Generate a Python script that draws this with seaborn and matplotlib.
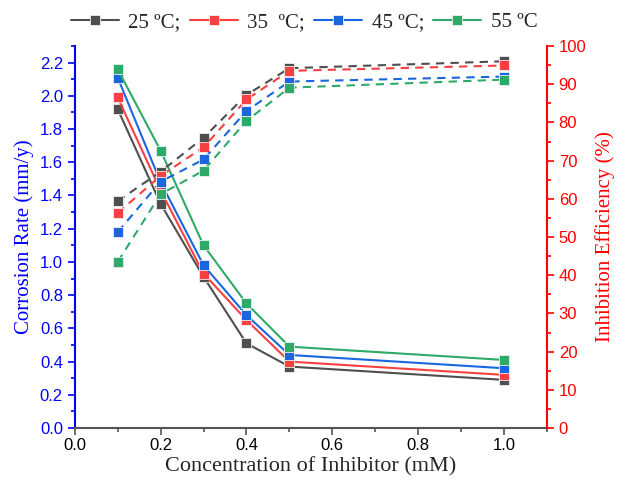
import matplotlib
matplotlib.use("Agg")
import matplotlib.pyplot as plt
import seaborn as sns
import pandas as pd
from matplotlib.lines import Line2D
from matplotlib.ticker import MultipleLocator

# concentration of inhibitor (mM)
conc = [0.1, 0.2, 0.3, 0.4, 0.5, 1.0]
temps = ["25 ºC;", "35  ºC;", "45 ºC;", "55 ºC"]

# corrosion rate (mm/y), left axis
cr_25 = [1.92, 1.35, 0.91, 0.51, 0.37, 0.29]
cr_35 = [1.99, 1.43, 0.93, 0.65, 0.40, 0.32]
cr_45 = [2.11, 1.48, 0.98, 0.68, 0.44, 0.36]
cr_55 = [2.16, 1.67, 1.10, 0.75, 0.49, 0.41]

# inhibition efficiency (%), right axis
ie_25 = [59.4, 67.1, 76.0, 87.2, 94.2, 96.0]
ie_35 = [56.3, 66.0, 73.5, 86.0, 93.5, 94.9]
ie_45 = [51.3, 64.5, 70.3, 83.0, 90.7, 92.0]
ie_55 = [43.5, 61.2, 67.4, 80.4, 89.1, 91.2]

colors = ["#4f4f4f", "#f94040", "#1a66e0", "#2eaa68"]

sns.set_style("ticks")
plt.rcParams["font.family"] = ["Liberation Sans", "DejaVu Sans"]
serif = ["Liberation Serif", "DejaVu Serif"]

fig = plt.figure(figsize=(6.18, 4.92), dpi=100)
ax = fig.add_axes([0.121, 0.130, 0.764, 0.7765])
ax2 = ax.twinx()

cr_all = [cr_25, cr_35, cr_45, cr_55]
ie_all = [ie_25, ie_35, ie_45, ie_55]

mk = dict(marker="s", markersize=7.5, markeredgecolor="#eeeeee",
          markeredgewidth=0.6, linewidth=1.5)

# solid lines: corrosion rate
for cr, col in zip(cr_all, colors):
    df = pd.DataFrame({"conc": conc, "val": cr})
    sns.lineplot(data=df, x="conc", y="val", ax=ax, color=col,
                 markerfacecolor=col, legend=False, **mk)

# dashed lines: inhibition efficiency
for ie, col in zip(ie_all, colors):
    df = pd.DataFrame({"conc": conc, "val": ie})
    sns.lineplot(data=df, x="conc", y="val", ax=ax2, color=col,
                 markerfacecolor=col, legend=False,
                 linestyle=(0, (4, 3)), **mk)

ax.set_xlim(0, 1.1)
ax.set_ylim(0, 2.3)
ax2.set_ylim(0, 100)

ax.xaxis.set_minor_locator(MultipleLocator(0.1))
ax.yaxis.set_major_locator(MultipleLocator(0.2))
ax.yaxis.set_minor_locator(MultipleLocator(0.1))
ax2.yaxis.set_major_locator(MultipleLocator(10))
ax2.yaxis.set_minor_locator(MultipleLocator(5))

ax.set_xticks([0.0, 0.2, 0.4, 0.6, 0.8, 1.0])
ax.set_xticklabels(["0.0", "0.2", "0.4", "0.6", "0.8", "1.0"])

for a in (ax, ax2):
    a.spines["top"].set_visible(False)
ax.spines["right"].set_visible(False)
ax2.spines["left"].set_visible(False)
ax2.spines["bottom"].set_visible(False)

ax.spines["left"].set_color("blue")
ax.spines["bottom"].set_color("#555555")
ax2.spines["right"].set_color("red")
for s in ("left", "bottom"):
    ax.spines[s].set_linewidth(1.5)
ax2.spines["right"].set_linewidth(1.5)

ax.tick_params(axis="y", which="both", colors="blue", labelsize=12)
ax.tick_params(axis="x", which="both", colors="#555555", labelcolor="black",
               labelsize=12, pad=2)
ax.tick_params(which="major", length=5, width=1.2)
ax.tick_params(which="minor", length=3, width=1.2)
ax2.tick_params(axis="y", which="both", colors="red", labelsize=12)
ax2.tick_params(which="major", length=5, width=1.2)
ax2.tick_params(which="minor", length=3, width=1.2)

ax.set_xlabel("Concentration of Inhibitor (mM)", family=serif, fontsize=16,
              labelpad=3)
ax.set_ylabel("Corrosion Rate (mm/y)", family=serif, fontsize=15,
              color="blue", labelpad=4)
ax2.set_ylabel("Inhibition Efficiency (%)", family=serif, fontsize=15,
               color="red", labelpad=6)

handles = [Line2D([], [], color=c, marker="s", markersize=7.5,
                  markeredgecolor="#eeeeee", markeredgewidth=0.6,
                  linewidth=1.5) for c in colors]
fig.legend(handles, temps, loc="center", bbox_to_anchor=(0.492, 0.955),
           ncol=4, frameon=False, prop={"family": serif, "size": 15},
           handlelength=2.3, handletextpad=0.45, columnspacing=0.45)

fig.savefig("out.png", dpi=100)
